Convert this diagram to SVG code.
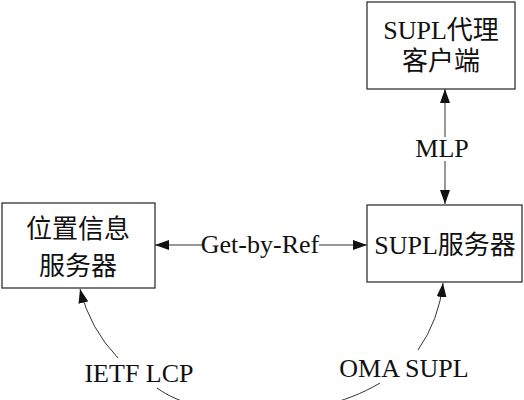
<svg xmlns="http://www.w3.org/2000/svg" width="524" height="400" viewBox="0 0 524 400">
<style>
.box{fill:#fff;stroke:#333;stroke-width:1.3}
.t{font-family:"Liberation Serif","Noto Sans CJK SC",serif;font-size:26px;fill:#111;text-anchor:middle}
.ln{fill:none;stroke:#333;stroke-width:1}
</style>
<defs>
<marker id="ah" viewBox="0 0 14 10" refX="14" refY="5" markerWidth="14" markerHeight="10" markerUnits="userSpaceOnUse" orient="auto-start-reverse">
<path d="M0,0 L14,5 L0,10 z" fill="#111"/>
</marker>
</defs>
<g id="connectors">
<line class="ln" x1="445" y1="89" x2="445" y2="137" marker-start="url(#ah)"/>
<line class="ln" x1="445" y1="161" x2="445" y2="204" marker-end="url(#ah)"/>
<line class="ln" x1="155" y1="245" x2="202" y2="245" marker-start="url(#ah)"/>
<line class="ln" x1="319" y1="245" x2="367" y2="245" marker-end="url(#ah)"/>
<path class="ln" d="M118,358 Q90,329 80,289" marker-end="url(#ah)"/>
<path class="ln" d="M157,388 C200,420 310,425 380,383"/>
<path class="ln" d="M418,350 Q439,320 443,283" marker-end="url(#ah)"/>
<text class="t" x="442" y="157">MLP</text>
<text class="t" x="260" y="253">Get-by-Ref</text>
<text class="t" x="139" y="382">IETF LCP</text>
<text class="t" x="404" y="377">OMA SUPL</text>
</g>
<g id="supl-agent">
<rect class="box" x="367" y="2" width="148" height="87"/>
<text class="t" x="441" y="39">SUPL代理</text>
<text class="t" x="441" y="70">客户端</text>
</g>
<g id="location-server">
<rect class="box" x="2" y="203" width="153" height="85"/>
<text class="t" x="78" y="238">位置信息</text>
<text class="t" x="78" y="275">服务器</text>
</g>
<g id="supl-server">
<rect class="box" x="367" y="205" width="155" height="77"/>
<text class="t" x="445" y="254">SUPL服务器</text>
</g>
</svg>
